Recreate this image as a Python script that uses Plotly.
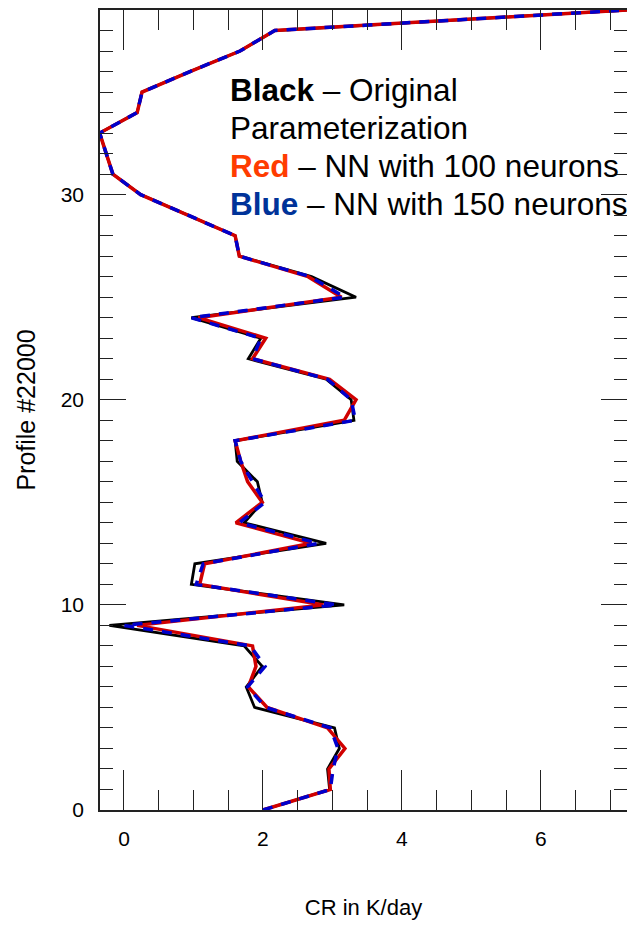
import plotly.graph_objects as go

levels = list(range(40))

black_vals = [2.00, 2.96, 2.93, 3.10, 3.03, 1.88, 1.76, 1.99, 1.73, -0.21,
              3.17, 0.97, 1.02, 2.91, 1.73, 1.99, 1.92, 1.63, 1.60, 3.31,
              3.27, 2.91, 1.79, 1.97, 0.97, 3.34, 2.70, 1.66, 1.60, 0.93,
              0.24, -0.16, -0.26, -0.35, 0.19, 0.26, 0.95, 1.67, 2.17, 7.24]

red_vals = [2.00, 2.97, 2.95, 3.18, 2.93, 2.06, 1.79, 1.90, 1.85, 0.19,
            2.87, 1.09, 1.16, 2.70, 1.61, 1.99, 1.78, 1.68, 1.60, 3.17,
            3.34, 2.96, 1.85, 2.04, 1.07, 3.13, 2.65, 1.66, 1.60, 0.93,
            0.24, -0.16, -0.26, -0.35, 0.19, 0.26, 0.95, 1.67, 2.17, 7.24]

blue_vals = [2.00, 2.97, 3.01, 3.08, 2.97, 2.04, 1.78, 2.03, 1.82, 0.00,
             3.07, 1.04, 1.14, 2.80, 1.66, 2.03, 1.85, 1.68, 1.60, 3.33,
             3.27, 2.93, 1.85, 1.97, 0.97, 3.18, 2.68, 1.66, 1.60, 0.93,
             0.24, -0.16, -0.26, -0.35, 0.19, 0.26, 0.95, 1.67, 2.17, 7.24]

x_tickvals = [0, 2, 4, 6]
y_tickvals = [0, 10, 20, 30]

fig = go.Figure()
fig.add_trace(go.Scatter(x=black_vals, y=levels, mode="lines",
                         line=dict(color="black", width=2.8), showlegend=False))
fig.add_trace(go.Scatter(x=red_vals, y=levels, mode="lines",
                         line=dict(color="#d00000", width=3.5), showlegend=False))
fig.add_trace(go.Scatter(x=blue_vals, y=levels, mode="lines",
                         line=dict(color="#0000cc", width=3.5, dash="10px,9px"),
                         showlegend=False))

font_main = "Liberation Sans, Arial, sans-serif"

fig.update_xaxes(
    range=[-0.345, 7.24], tickvals=x_tickvals, ticktext=[str(v) for v in x_tickvals],
    ticks="inside", ticklen=40, tickwidth=1.2, tickcolor="#222",
    minor=dict(dtick=0.5, tick0=0, ticks="inside", ticklen=20, tickwidth=1.2, tickcolor="#222"),
    showline=True, linecolor="#222", linewidth=1.5, mirror="allticks",
    showgrid=False, zeroline=False,
    tickfont=dict(family=font_main, size=21, color="black"),
    ticklabelstandoff=9,
    title=dict(text="CR in K/day", font=dict(family=font_main, size=22, color="black"), standoff=51),
)
fig.update_yaxes(
    range=[0, 39], tickvals=y_tickvals, ticktext=[str(v) for v in y_tickvals],
    ticks="inside", ticklen=26, tickwidth=1.2, tickcolor="#222",
    minor=dict(dtick=1, tick0=0, ticks="inside", ticklen=13, tickwidth=1.2, tickcolor="#222"),
    showline=True, linecolor="#222", linewidth=1.5, mirror="allticks",
    showgrid=False, zeroline=False,
    tickfont=dict(family=font_main, size=21, color="black"),
    ticklabelstandoff=10,
    title=dict(text="Profile #22000", font=dict(family=font_main, size=25, color="black"), standoff=18),
)

ann_font = dict(family=font_main, size=31.5, color="black")
lines = [
    ("<b>Black</b> – Original", 88),
    ("Parameterization", 126),
    ("<span style='color:#ff3c00'><b>Red</b></span> – NN with 100 neurons", 164),
    ("<span style='color:#003399'><b>Blue</b></span> – NN with 150 neurons", 202),
]
for txt, py in lines:
    fig.add_annotation(text=txt, xref="paper", yref="paper",
                       x=(228 - 100) / 527, y=(810 - py) / 802,
                       xanchor="left", yanchor="middle", showarrow=False,
                       font=ann_font)

fig.update_layout(
    width=627, height=919,
    margin=dict(l=92, r=8, t=0, b=117),
    paper_bgcolor="white", plot_bgcolor="white",
)

fig.write_html("out.html")
